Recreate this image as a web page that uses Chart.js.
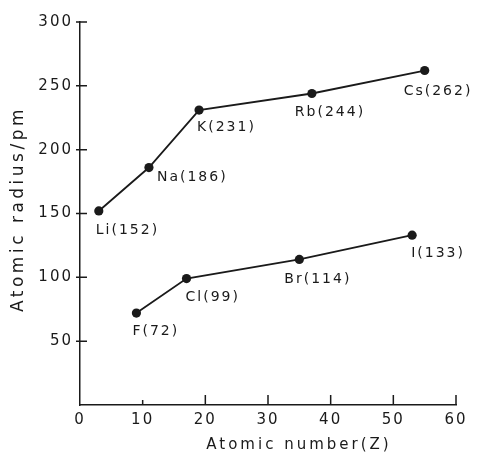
<!DOCTYPE html>
<html>
<head>
<meta charset="utf-8">
<script src="https://cdn.jsdelivr.net/npm/chart.js@4.4.1/dist/chart.umd.min.js"></script>
<style>
  html, body { margin: 0; padding: 0; background: #fff; }
  #wrap { width: 488px; height: 453px; position: relative; }
</style>
</head>
<body>
<div id="wrap"><canvas id="chart"></canvas></div>
<script>
const alkaliNames = ['Li', 'Na', 'K', 'Rb', 'Cs'];
const alkaliZ = [3, 11, 19, 37, 55];
const alkaliRadius = [152, 186, 231, 244, 262];

const halogenNames = ['F', 'Cl', 'Br', 'I'];
const halogenZ = [9, 17, 35, 53];
const halogenRadius = [72, 99, 114, 133];

const xTicks = [0, 10, 20, 30, 40, 50, 60];
const yTicks = [50, 100, 150, 200, 250, 300];

const xTitle = 'Atomic number(Z)';
const yTitle = 'Atomic radius/pm';

// label placement relative to each point (left edge, vertical centre)
const alkaliShift = [[-3, 19], [8, 10], [-2, 17], [-17, 19], [-21, 21]];
const halogenShift = [[-4, 18], [-1, 19], [-15, 20], [-1, 18]];

const ink = '#1a1a1a';
const font = 'DejaVu Sans';

const toPoints = (xs, ys) => xs.map((x, i) => ({ x, y: ys[i] }));

const makeSet = (names, xs, ys, shift) => ({
  data: toPoints(xs, ys),
  names,
  shift,
  showLine: true,
  borderColor: ink,
  borderWidth: 1.8,
  backgroundColor: ink,
  pointRadius: 4.6,
  pointHoverRadius: 4.6,
  pointBorderWidth: 0,
  tension: 0
});

const inkPlugin = {
  id: 'ink',
  beforeDraw(chart) {
    chart.ctx.letterSpacing = '2px';
  },
  afterDraw(chart) {
    const { ctx, scales } = chart;
    const xs = scales.x;
    const ys = scales.y;
    const x0 = xs.getPixelForValue(0);
    const y0 = ys.getPixelForValue(0);
    ctx.save();
    ctx.strokeStyle = ink;
    ctx.lineWidth = 1.5;
    ctx.beginPath();
    yTicks.forEach((v) => {
      const y = ys.getPixelForValue(v);
      ctx.moveTo(x0 - 4, y);
      ctx.lineTo(x0 + 7, y);
    });
    xTicks.forEach((v) => {
      if (v === 0) return;
      const x = xs.getPixelForValue(v);
      ctx.moveTo(x, y0);
      ctx.lineTo(x, y0 - (v === 10 ? 5 : 10));
    });
    ctx.stroke();

    // point labels
    ctx.fillStyle = ink;
    ctx.letterSpacing = '2px';
    ctx.font = '14px "' + font + '"';
    ctx.textAlign = 'left';
    ctx.textBaseline = 'middle';
    chart.data.datasets.forEach((ds, di) => {
      const meta = chart.getDatasetMeta(di);
      meta.data.forEach((pt, i) => {
        const [dx, dy] = ds.shift[i];
        ctx.fillText(ds.names[i] + '(' + ds.data[i].y + ')', pt.x + dx, pt.y + dy);
      });
    });

    // axis titles
    ctx.font = '15px "' + font + '"';
    ctx.letterSpacing = '3px';
    ctx.textAlign = 'center';
    ctx.fillText(xTitle, 299, 445);

    ctx.font = '17px "' + font + '"';
    ctx.letterSpacing = '3.5px';
    ctx.translate(19, 209);
    ctx.rotate(-Math.PI / 2);
    ctx.fillText(yTitle, 0, 0);
    ctx.restore();
  }
};

new Chart(document.getElementById('chart'), {
  type: 'scatter',
  data: {
    datasets: [
      makeSet(alkaliNames, alkaliZ, alkaliRadius, alkaliShift),
      makeSet(halogenNames, halogenZ, halogenRadius, halogenShift)
    ]
  },
  options: {
    responsive: true,
    maintainAspectRatio: false,
    animation: false,
    layout: { padding: { top: 22, right: 32, left: 0, bottom: 0 } },
    plugins: {
      legend: { display: false },
      tooltip: { enabled: false }
    },
    scales: {
      x: {
        type: 'linear',
        min: 0,
        max: 60,
        afterBuildTicks: (s) => { s.ticks = xTicks.map((v) => ({ value: v })); },
        afterFit: (s) => { s.height = 48; },
        grid: { display: false, drawTicks: false },
        border: { display: true, color: ink, width: 1.5 },
        ticks: {
          color: ink,
          padding: 6,
          maxRotation: 0,
          font: { family: font, size: 15 }
        }
      },
      y: {
        type: 'linear',
        min: 0,
        max: 300,
        afterBuildTicks: (s) => { s.ticks = yTicks.map((v) => ({ value: v })); },
        afterFit: (s) => { s.width = 80; },
        grid: { display: false, drawTicks: false },
        border: { display: true, color: ink, width: 1.5 },
        ticks: {
          color: ink,
          padding: 7,
          font: { family: font, size: 15 }
        }
      }
    }
  },
  plugins: [inkPlugin]
});
</script>
</body>
</html>
